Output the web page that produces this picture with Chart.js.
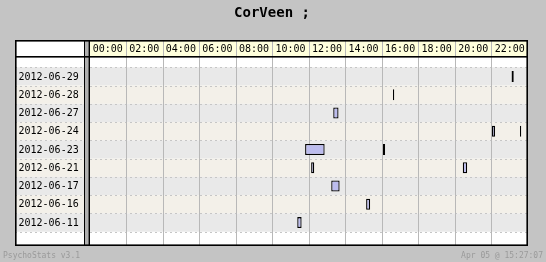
<!DOCTYPE html>
<html>
<head>
<meta charset="utf-8">
<script src="https://cdn.jsdelivr.net/npm/chart.js@4/dist/chart.umd.min.js"></script>
<style>
html,body{margin:0;padding:0;background:#c4c4c4;}
canvas{display:block;}
</style>
</head>
<body>
<canvas id="c" width="546" height="262"></canvas>
<script>
const title = 'CorVeen ;';
const dates = ['2012-06-29','2012-06-28','2012-06-27','2012-06-24','2012-06-23','2012-06-21','2012-06-17','2012-06-16','2012-06-11'];
const sessionAStart = [23.10, 16.61, 13.34, 22.03, 11.80, 12.13, 13.23, 15.14, 11.37];
const sessionAEnd   = [23.22, 16.68, 13.63, 22.20, 12.87, 12.30, 13.69, 15.36, 11.61];
const sessionBStart = [null, null, null, 23.56, 16.06, 20.43, null, null, null];
const sessionBEnd   = [null, null, null, 23.63, 16.18, 20.67, null, null, null];
const hourTicks = [0, 2, 4, 6, 8, 10, 12, 14, 16, 18, 20, 22];
const hourLabels = ['00:00','02:00','04:00','06:00','08:00','10:00','12:00','14:00','16:00','18:00','20:00','22:00'];
const footerLeft = 'PsychoStats v3.1';
const footerRight = 'Apr 05 @ 15:27:07';

const pairs = (s, e) => s.map((v, i) => (v === null ? null : [v, e[i]]));

const T = {l: 15, r: 528, t: 40, b: 246, headB: 57, sepL: 84, sepR: 90};

const tablePlugin = {
  id: 'table',
  beforeDraw(chart) {
    const ctx = chart.ctx;
    const xs = chart.scales.x, ys = chart.scales.y;
    ctx.save();
    ctx.fillStyle = '#c4c4c4';
    ctx.fillRect(0, 0, chart.width, chart.height);
    ctx.fillStyle = '#ffffff';
    ctx.fillRect(T.l, T.t, T.r - T.l, T.b - T.t);
    ctx.fillStyle = '#ffffdc';
    ctx.fillRect(T.sepR, T.t, T.r - T.sepR, T.headB - T.t);
    const n = dates.length;
    const step = (ys.getPixelForValue(1) - ys.getPixelForValue(0));
    for (let i = 0; i < n; i++) {
      const c = ys.getPixelForValue(i);
      ctx.fillStyle = i % 2 === 0 ? '#e9e9e9' : '#f3f0e9';
      ctx.fillRect(T.l, c - step / 2, T.r - T.l, step);
    }
    ctx.strokeStyle = '#c6c6c6';
    ctx.lineWidth = 1;
    ctx.setLineDash([2, 3]);
    for (let i = 0; i <= n; i++) {
      const y = Math.round(ys.getPixelForValue(i) - step / 2) + 0.5;
      ctx.beginPath();
      ctx.moveTo(T.l, y);
      ctx.lineTo(T.r, y);
      ctx.stroke();
    }
    ctx.setLineDash([]);
    ctx.strokeStyle = '#b8b8b8';
    hourTicks.forEach((h) => {
      if (h === 0) return;
      const x = Math.round(xs.getPixelForValue(h)) + 0.5;
      ctx.beginPath();
      ctx.moveTo(x, T.t);
      ctx.lineTo(x, T.b);
      ctx.stroke();
    });
    ctx.fillStyle = '#000';
    ctx.fillRect(T.sepL, T.t, 1, T.b - T.t);
    ctx.fillStyle = '#b0b0b0';
    ctx.fillRect(T.sepL + 1, T.t, 3.5, T.b - T.t);
    ctx.fillStyle = '#000';
    ctx.fillRect(88.5, T.t, 1.5, T.b - T.t);
    ctx.fillRect(T.l, 56, T.r - T.l, 1.6);
    ctx.strokeStyle = '#000';
    ctx.lineWidth = 1.6;
    ctx.strokeRect(T.l + 0.8, T.t + 0.8, T.r - T.l - 1.6, T.b - T.t - 1.6);
    ctx.restore();
  },
  afterDraw(chart) {
    const ctx = chart.ctx;
    const xs = chart.scales.x, ys = chart.scales.y;
    ctx.save();
    ctx.fillStyle = '#000';
    ctx.font = 'bold 14px "DejaVu Sans Mono"';
    ctx.textAlign = 'center';
    ctx.textBaseline = 'middle';
    ctx.fillText(title, 272, 13);
    ctx.font = '10px "DejaVu Sans Mono"';
    hourTicks.forEach((h, i) => {
      ctx.fillText(hourLabels[i], xs.getPixelForValue(h + 1), 49.5);
    });
    ctx.textAlign = 'left';
    dates.forEach((d, i) => {
      ctx.fillText(d, 18.5, ys.getPixelForValue(i) + 0.5);
    });
    ctx.fillStyle = '#9a9a9a';
    ctx.font = '8px "DejaVu Sans Mono"';
    ctx.fillText(footerLeft, 3, 256);
    ctx.textAlign = 'right';
    ctx.fillText(footerRight, 543, 256);
    ctx.restore();
  }
};

const barStyle = {
  grouped: false,
  backgroundColor: '#bcbcee',
  borderColor: '#000000',
  borderWidth: 1.3,
  borderSkipped: false,
  barPercentage: 0.6,
  categoryPercentage: 1
};

new Chart(document.getElementById('c'), {
  type: 'bar',
  data: {
    labels: dates,
    datasets: [
      Object.assign({data: pairs(sessionAStart, sessionAEnd)}, barStyle),
      Object.assign({data: pairs(sessionBStart, sessionBEnd)}, barStyle)
    ]
  },
  options: {
    indexAxis: 'y',
    responsive: false,
    devicePixelRatio: 1,
    animation: false,
    layout: {padding: {left: 89.5, right: 18, top: 67.3, bottom: 30.3}},
    scales: {
      x: {type: 'linear', min: 0, max: 24, display: false},
      y: {type: 'category', display: false, offset: true}
    },
    plugins: {legend: {display: false}, tooltip: {enabled: false}, colors: {enabled: false}}
  },
  plugins: [tablePlugin]
});
</script>
</body>
</html>
